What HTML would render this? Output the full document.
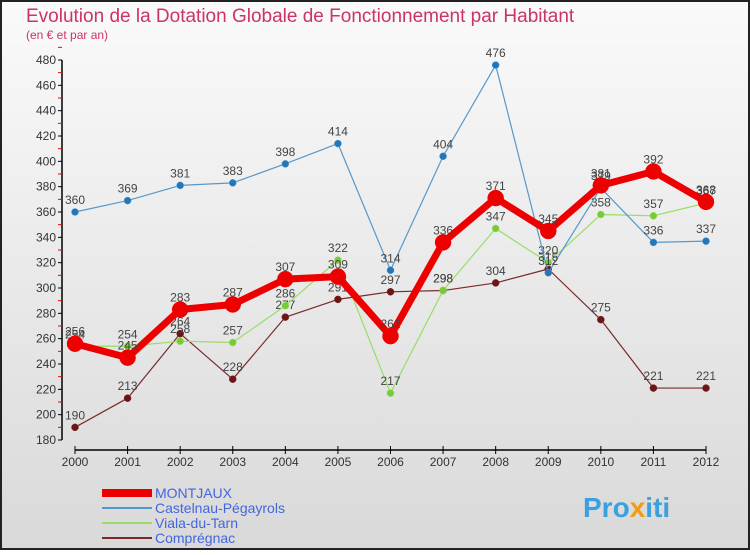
<!DOCTYPE html>
<html><head><meta charset="utf-8"><style>
body{margin:0;width:750px;height:550px;overflow:hidden;font-family:"Liberation Sans",sans-serif}
</style></head><body>
<svg width="750" height="550" xmlns="http://www.w3.org/2000/svg">
<defs><linearGradient id="bg" x1="0" y1="0" x2="0" y2="1"><stop offset="0" stop-color="#fafafa"/><stop offset="1" stop-color="#d9d9d9"/></linearGradient></defs>
<rect x="1" y="1" width="748" height="548" fill="url(#bg)" stroke="#222" stroke-width="2"/>
<text x="26" y="22" font-size="19" fill="#cc3366">Evolution de la Dotation Globale de Fonctionnement par Habitant</text>
<text x="26" y="39" font-size="12" fill="#cc3366">(en € et par an)</text>
<g id="axes"></g><g id="series"></g><g id="legend"></g>
<text x="583" y="517" font-size="28" font-weight="bold" fill="#3aa0e0">Pro<tspan fill="#f39c12">x</tspan>iti</text>
</svg>
<script>
const years=[2000,2001,2002,2003,2004,2005,2006,2007,2008,2009,2010,2011,2012];
const yTicks=[180,200,220,240,260,280,300,320,340,360,380,400,420,440,460,480];
const montjaux=[256,245,283,287,307,309,262,336,371,345,381,392,368];
const castelnau=[360,369,381,383,398,414,314,404,476,312,379,336,337];
const viala=[254,254,258,257,286,322,217,298,347,320,358,357,367];
const compregnac=[190,213,264,228,277,291,297,298,304,315,275,221,221];
const NS="http://www.w3.org/2000/svg";
const X=i=>75+i*(706-75)/(years.length-1);
const Y=v=>440-(v-180)*380/300;
function mk(t,a,p){const e=document.createElementNS(NS,t);for(const k in a)e.setAttribute(k,a[k]);p.appendChild(e);return e;}
const ax=document.getElementById('axes');
let l=mk('line',{x1:62,y1:60,x2:62,y2:440,stroke:'#000','stroke-width':1.5},ax);


l=mk('line',{x1:75,y1:450,x2:706,y2:450,stroke:'#000','stroke-width':1.5},ax);


yTicks.forEach(v=>{
 mk('line',{x1:58,y1:Y(v),x2:62,y2:Y(v),stroke:'#000'},ax);
 mk('line',{x1:58,y1:Y(v+10),x2:62,y2:Y(v+10),stroke:'#e00'},ax);
 const t=mk('text',{x:56,y:Y(v)+4,'font-size':12,fill:'#333','text-anchor':'end'},ax);t.textContent=v;
 
 
});
years.forEach((y,i)=>{
 mk('line',{x1:X(i),y1:446,x2:X(i),y2:454,stroke:'#000'},ax);
 const t=mk('text',{x:X(i),y:466,'font-size':12,fill:'#333','text-anchor':'middle'},ax);t.textContent=y;
 
 
});
const sg=document.getElementById('series');
function draw(vals,color,w,r,name,dot){
 const g=mk('g',{},sg);
 
 
 mk('polyline',{points:vals.map((v,i)=>X(i)+','+Y(v)).join(' '),fill:'none',stroke:color,'stroke-width':w,'stroke-linejoin':'round'},g);
 vals.forEach((v,i)=>{
  const c=mk('circle',{cx:X(i),cy:Y(v),r:r,fill:dot,stroke:color,'stroke-width':0.5},g);
  
  
  const t=mk('text',{x:X(i),y:Y(v)-8,'font-size':12,fill:'#444','text-anchor':'middle'},g);t.textContent=v;
 });
}
draw(compregnac,'#7a2a2a',1.2,3.5,'compregnac-series','#6b1515');
draw(viala,'#99dd66',1.2,3.5,'viala-series','#77cc33');
draw(castelnau,'#5599cc',1.2,3.5,'castelnau-series','#2277bb');
draw(montjaux,'#ee0000',7,8,'montjaux-series','#ee0000');
const lg=document.getElementById('legend');
const leg=[['MONTJAUX','#ee0000',8],['Castelnau-Pégayrols','#5599cc',2],['Viala-du-Tarn','#99dd66',2],['Comprégnac','#7a2a2a',2]];
leg.forEach((d,i)=>{
 const y=493+i*15;
 const g=mk('g',{},lg);
 
 
 mk('line',{x1:102,y1:y,x2:152,y2:y,stroke:d[1],'stroke-width':d[2]},g);
 const t=mk('text',{x:155,y:y+5,'font-size':14,fill:'#4466dd'},g);t.textContent=d[0];
});
</script>
</body></html>
